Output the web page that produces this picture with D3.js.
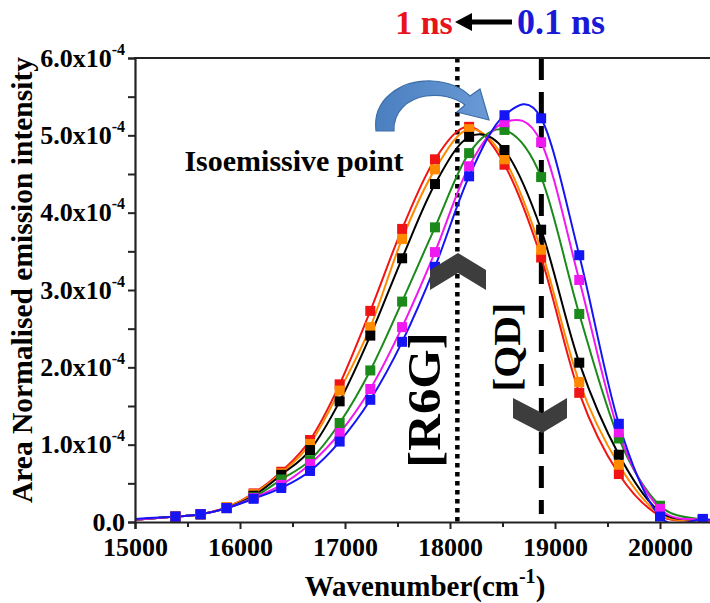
<!DOCTYPE html>
<html><head><meta charset="utf-8">
<script src="https://cdn.jsdelivr.net/npm/d3@7"></script>
<style>
body{margin:0;background:#fff}
text{font-family:"Liberation Serif","Times New Roman",serif;font-weight:bold}
</style>
</head><body>
<svg id="c" width="710" height="603"></svg>
<script>
// ---- data (intensity in units of 1e-4) ----
const wavenumbers = [15385, 15625, 15873, 16129, 16393, 16667, 16949, 17241, 17544, 17857, 18182, 18519, 18868, 19231, 19608, 20000, 20408];
const redValues     = [0.07, 0.10, 0.19, 0.37, 0.65, 1.06, 1.78, 2.73, 3.79, 4.69, 5.11, 4.62, 3.42, 1.67, 0.62, 0.08, 0.02];
const orangeValues  = [0.07, 0.10, 0.19, 0.36, 0.63, 1.01, 1.70, 2.52, 3.66, 4.56, 5.08, 4.69, 3.52, 1.81, 0.74, 0.10, 0.02];
const blackValues   = [0.07, 0.10, 0.18, 0.34, 0.61, 0.93, 1.56, 2.41, 3.41, 4.37, 4.98, 4.81, 3.78, 2.06, 0.87, 0.13, 0.03];
const greenValues   = [0.07, 0.10, 0.18, 0.32, 0.55, 0.80, 1.28, 1.96, 2.85, 3.81, 4.77, 5.07, 4.46, 2.69, 1.08, 0.21, 0.03];
const magentaValues = [0.07, 0.10, 0.18, 0.31, 0.48, 0.75, 1.15, 1.72, 2.52, 3.49, 4.60, 5.17, 4.91, 3.13, 1.16, 0.17, 0.03];
const blueValues    = [0.07, 0.10, 0.18, 0.30, 0.44, 0.66, 1.04, 1.58, 2.33, 3.30, 4.47, 5.26, 5.22, 3.45, 1.27, 0.07, 0.04];
// fitted-line end values at the plot edges [15000, 20500]
const lineEdgeX = [15000, 20500];
const redEdge     = [0.03, 0.00];
const orangeEdge  = [0.03, 0.00];
const blackEdge   = [0.03, 0.01];
const greenEdge   = [0.03, 0.01];
const magentaEdge = [0.03, 0.01];
const blueEdge    = [0.04, 0.02];
const xTicks = [15000, 16000, 17000, 18000, 19000, 20000];
const xMinorTicks = [15500, 16500, 17500, 18500, 19500, 20500];
const yTicks = [0, 1, 2, 3, 4, 5, 6];
const yMinorTicks = [0.5, 1.5, 2.5, 3.5, 4.5, 5.5];
const isoemissiveX = 18070;
const qdX = 18870;

const series = [
  {values: redValues, edge: redEdge, color: "#f01414"},
  {values: orangeValues, edge: orangeEdge, color: "#ff8a00"},
  {values: blackValues, edge: blackEdge, color: "#000000"},
  {values: greenValues, edge: greenEdge, color: "#1b8a1b"},
  {values: magentaValues, edge: magentaEdge, color: "#f018f0"},
  {values: blueValues, edge: blueEdge, color: "#1414f5"}
];

const svg = d3.select("#c");
const L = 135, R = 712.5, T = 58, B = 522;
const x = d3.scaleLinear().domain([15000, 20500]).range([L, R]);
const y = d3.scaleLinear().domain([0, 6]).range([B, T]);

svg.append("defs").append("clipPath").attr("id","clip")
  .append("rect").attr("x", L).attr("y", T).attr("width", R - L).attr("height", B - T);

// reference lines
svg.append("line").attr("x1", x(isoemissiveX)).attr("x2", x(isoemissiveX)).attr("y1", T).attr("y2", B)
  .attr("stroke", "#000").attr("stroke-width", 4.5).attr("stroke-dasharray", "4.5,4.5");
svg.append("line").attr("x1", x(qdX)).attr("x2", x(qdX)).attr("y1", T).attr("y2", B - 8)
  .attr("stroke", "#000").attr("stroke-width", 5).attr("stroke-dasharray", "22,12");

// curves
const line = d3.line().x(d => x(d[0])).y(d => y(d[1])).curve(d3.curveCardinal.tension(0));
const g = svg.append("g").attr("clip-path", "url(#clip)");
series.forEach(s => {
  const pts = [[lineEdgeX[0], s.edge[0]]].concat(wavenumbers.map((w, i) => [w, s.values[i]]), [[lineEdgeX[1], s.edge[1]]]);
  g.append("path").attr("d", line(pts)).attr("fill", "none").attr("stroke", s.color).attr("stroke-width", 2);
});
const ms = 10;
series.forEach(s => {
  g.selectAll(null).data(wavenumbers.map((w, i) => [w, s.values[i]])).enter().append("rect")
    .attr("x", d => x(d[0]) - ms/2).attr("y", d => y(d[1]) - ms/2)
    .attr("width", ms).attr("height", ms).attr("fill", s.color);
});

// axes
const axisColor = "#222";
const xAxis = svg.append("g").attr("transform", `translate(0,${B})`)
  .call(d3.axisBottom(x).tickValues(xTicks).tickSize(7).tickPadding(9).tickFormat(d3.format("d")));
const xMinor = svg.append("g").attr("transform", `translate(0,${B})`)
  .call(d3.axisBottom(x).tickValues(xMinorTicks).tickSize(5).tickFormat(""));
const yAxis = svg.append("g").attr("transform", `translate(${L},0)`)
  .call(d3.axisLeft(y).tickValues(yTicks).tickSize(7).tickPadding(4).tickFormat(""));
const yMinor = svg.append("g").attr("transform", `translate(${L},0)`)
  .call(d3.axisLeft(y).tickValues(yMinorTicks).tickSize(7).tickFormat(""));
[xAxis, xMinor, yAxis, yMinor].forEach(a => {
  a.select(".domain").attr("stroke", axisColor).attr("stroke-width", 2.2);
  a.selectAll(".tick line").attr("stroke", axisColor).attr("stroke-width", 2);
});
xMinor.select(".domain").remove(); yMinor.select(".domain").remove();
xAxis.selectAll(".tick text").attr("font-size", 26).attr("fill", "#000")
  .style("font-family", '"Liberation Serif","Times New Roman",serif').style("font-weight", "bold");
svg.append("line").attr("x1", L - 1).attr("x2", R).attr("y1", T).attr("y2", T).attr("stroke", axisColor).attr("stroke-width", 2.2);

// y tick labels with superscript
yTicks.forEach(v => {
  const t = svg.append("text").attr("x", L - 10).attr("y", y(v) + 8.5).attr("text-anchor", "end").attr("font-size", 26);
  if (v === 0) { t.text("0.0"); }
  else {
    t.append("tspan").text(v.toFixed(1) + "x10");
    t.append("tspan").attr("dy", -12).attr("font-size", 16).text("-4");
  }
});

// axis titles
const xt = svg.append("text").attr("x", 425).attr("y", 596).attr("text-anchor", "middle").attr("font-size", 29);
xt.append("tspan").text("Wavenumber(cm");
xt.append("tspan").attr("dy", -13).attr("font-size", 20).text("-1");
xt.append("tspan").attr("dy", 13).text(")");
svg.append("text").attr("transform", "translate(32,280) rotate(-90)").attr("text-anchor", "middle")
  .attr("font-size", 29.5).text("Area Normalised emission intensity");

// annotations
svg.append("text").attr("x", 424).attr("y", 34).attr("text-anchor", "middle").attr("font-size", 34).attr("fill", "#e8141b").text("1 ns");
svg.append("text").attr("x", 561).attr("y", 34).attr("text-anchor", "middle").attr("font-size", 36).attr("fill", "#1a1ad6").text("0.1 ns");
svg.append("line").attr("x1", 512).attr("x2", 468).attr("y1", 22).attr("y2", 22).attr("stroke", "#000").attr("stroke-width", 5);
svg.append("path").attr("d", "M455,22 L472,13 L472,31 Z").attr("fill", "#000");

svg.append("text").attr("x", 294).attr("y", 171).attr("text-anchor", "middle").attr("font-size", 30).text("Isoemissive point");
svg.append("text").attr("transform", "translate(440,400) rotate(-90) scale(1.08,1)").attr("text-anchor", "middle").attr("font-size", 47).text("[R6G]");
svg.append("text").attr("transform", "translate(520,347) rotate(-90) scale(1.08,1)").attr("text-anchor", "middle").attr("font-size", 38).text("[QD]");

// chevrons
svg.append("path").attr("d", "M458,253 L486,270 L486,290 L458,273 L430,290 L430,270 Z").attr("fill", "#3d3d3d");
svg.append("path").attr("d", "M513,398 L542,413 L567,398 L567,418 L542,433 L513,418 Z").attr("fill", "#3d3d3d");

// curved blue arrow
const grad = svg.select("defs").append("linearGradient").attr("id","ag").attr("x1","0").attr("y1","0").attr("x2","1").attr("y2","0");
grad.append("stop").attr("offset","0").attr("stop-color","#4a7fc0");
grad.append("stop").attr("offset","1").attr("stop-color","#6a9ad6");
svg.append("path")
  .attr("d", "M376,131 C372,98 402,80 432,81 C450,82 462,88 470,96 L480,89 L489,120 L457,112 L465,105 C455,97 440,94 426,96 C407,99 393,112 394,131 Z")
  .attr("fill", "url(#ag)").attr("stroke", "#3e6ea8").attr("stroke-width", 1.2);
</script>
</body></html>
